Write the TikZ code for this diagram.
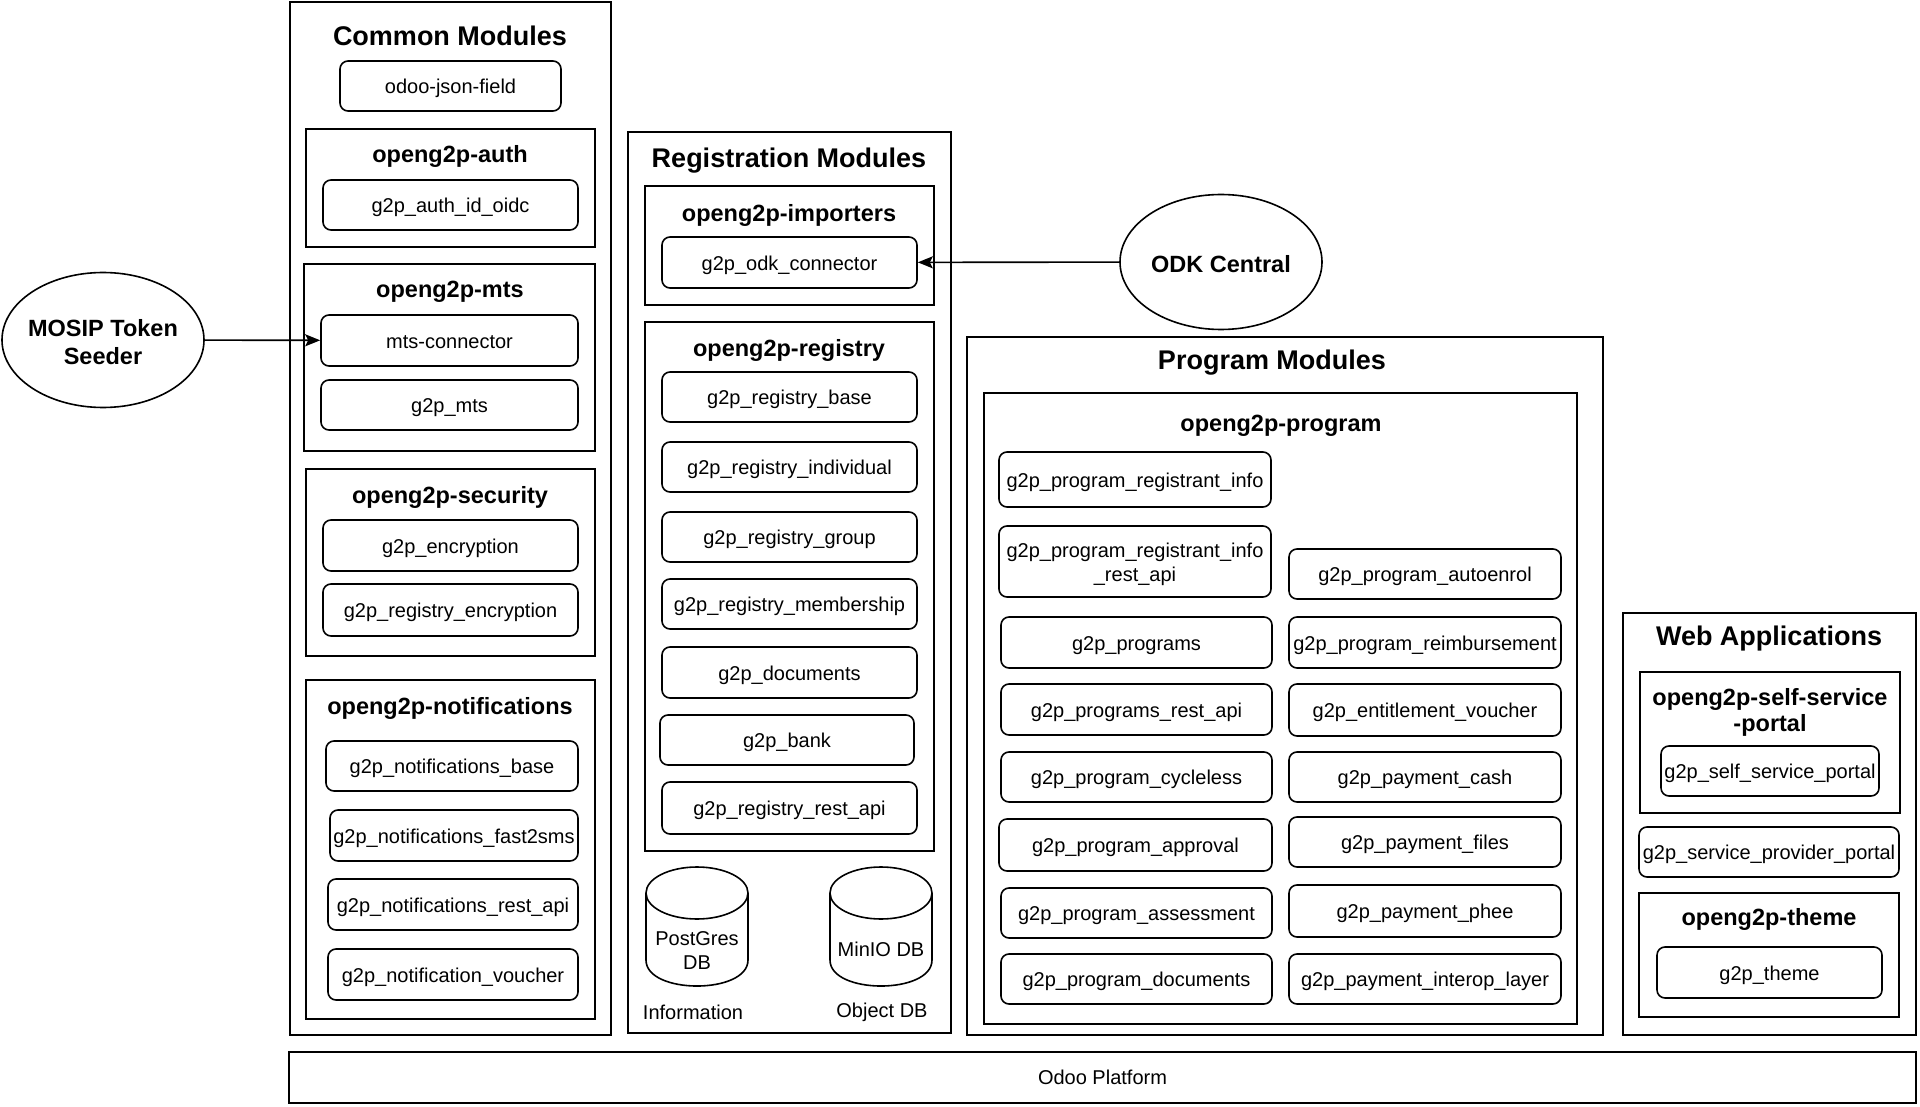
\documentclass[tikz,border=0pt]{standalone}
\usepackage{fontspec}
\setmainfont{Liberation Sans}
\usetikzlibrary{shapes.geometric,arrows.meta}

% box from corner (#3,#4) to corner (#5,#6)
\newcommand\boxnode[7][mod]{%
  \node[#1, minimum width={(#5-#3)*1pt}, minimum height={(#6-#4)*1pt}] (#2) at ({(#3+#5)/2},{(#4+#6)/2}) {#7};}

\begin{document}
\begin{tikzpicture}[x=1pt, y=-1pt,
  grp/.style={draw, line width=1.6pt, inner sep=0pt, align=center, font=\fontsize{20}{24}\selectfont},
  mod/.style={draw, line width=1.6pt, rounded corners=8pt, inner sep=0pt, align=center, font=\fontsize{20}{24}\selectfont, text height=18pt, text depth=2.5pt},
  head/.style={font=\bfseries\fontsize{27}{32}\selectfont},
  subhead/.style={font=\bfseries\fontsize{23.5}{26}\selectfont, align=center},
  txt/.style={font=\fontsize{20}{24}\selectfont, align=center},
  ext/.style={ellipse, draw, line width=1.6pt, inner sep=0pt, minimum width=202pt, minimum height=135pt},
  exttxt/.style={align=center, font=\bfseries\fontsize{23.5}{28}\selectfont},
  cyl/.style={line width=1.6pt},
  link/.style={line width=1.6pt, -{Stealth[length=15pt,width=12pt,inset=3pt]}}]
\useasboundingbox (0,0) rectangle (1920,1107);

% common modules
\boxnode[grp]{common}{290}{2}{611}{1035}{}
\node[head] (commonT) at (450,36) {Common Modules};
\boxnode{jsonfield}{340}{61}{561}{111}{odoo-json-field}

\boxnode[grp]{auth}{306}{129}{595}{247}{}
\node[subhead] (authT) at (450,156) {openg2p-auth};
\boxnode{authoidc}{323}{180}{578}{230}{g2p\_auth\_id\_oidc}

\boxnode[grp]{mts}{304}{264}{595}{451}{}
\node[subhead] (mtsT) at (450,292) {openg2p-mts};
\boxnode{mtsconn}{321}{315}{578}{366}{mts-connector}
\boxnode{g2pmts}{321}{380}{578}{430}{g2p\_mts}

\boxnode[grp]{security}{306}{469}{595}{656}{}
\node[subhead] (securityT) at (450,497) {openg2p-security};
\boxnode{encryption}{323}{520}{578}{571}{g2p\_encryption}
\boxnode{regencryption}{323}{584}{578}{636}{g2p\_registry\_encryption}

\boxnode[grp]{notif}{306}{680}{595}{1019}{}
\node[subhead] (notifT) at (450,708) {openg2p-notifications};
\boxnode{notifbase}{326}{741}{578}{791}{g2p\_notifications\_base}
\boxnode{notifsms}{330}{810}{578}{861}{g2p\_notifications\_fast2sms}
\boxnode{notifrest}{328}{879}{578}{930}{g2p\_notifications\_rest\_api}
\boxnode{notifvoucher}{328}{949}{578}{1000}{g2p\_notification\_voucher}

% registration modules
\boxnode[grp]{reg}{628}{132}{951}{1033}{}
\node[head] (regT) at (789,161) {Registration Modules};

\boxnode[grp]{importers}{645}{186}{934}{305}{}
\node[subhead] (importersT) at (789,215) {openg2p-importers};
\boxnode{odkconn}{662}{237}{917}{288}{g2p\_odk\_connector}

\boxnode[grp]{registry}{645}{322}{934}{851}{}
\node[subhead] (registryT) at (789,350) {openg2p-registry};
\boxnode{regbase}{662}{372}{917}{422}{g2p\_registry\_base}
\boxnode{regindiv}{662}{442}{917}{492}{g2p\_registry\_individual}
\boxnode{reggroup}{662}{512}{917}{562}{g2p\_registry\_group}
\boxnode{regmember}{662}{579}{917}{629}{g2p\_registry\_membership}
\boxnode{regdocs}{662}{647}{917}{698}{g2p\_documents}
\boxnode{regbank}{660}{715}{914}{765}{g2p\_bank}
\boxnode{regrest}{662}{782}{917}{834}{g2p\_registry\_rest\_api}

% databases
\foreach \cx in {697,881} {
  \draw[cyl] (\cx-51,893) -- (\cx-51,960) .. controls (\cx-51,994.7) and (\cx+51,994.7) .. (\cx+51,960) -- (\cx+51,893);
  \draw[cyl] (\cx,893) ellipse [x radius=51pt, y radius=26pt];
}
\node[txt] (postgres) at (697,951) {PostGres\\DB};
\node[txt] (minio) at (881,949) {MinIO DB};
\node[txt] (infoL) at (693,1012) {Information};
\node[txt] (objL) at (882,1012) {Object DB};

% program modules
\boxnode[grp]{prog}{967}{337}{1603}{1035}{}
\node[head] (progT) at (1272,363) {Program Modules};
\boxnode[grp]{program}{984}{393}{1577}{1024}{}
\node[subhead] (programT) at (1281,426) {openg2p-program};

\boxnode{reginfo}{999}{452}{1271}{507}{g2p\_program\_registrant\_info}
\boxnode[mod, text height=42pt]{reginforest}{999}{526}{1271}{597}{g2p\_program\_registrant\_info\\\_rest\_api}
\boxnode{programs}{1001}{617}{1272}{668}{g2p\_programs}
\boxnode{programsrest}{1001}{684}{1272}{735}{g2p\_programs\_rest\_api}
\boxnode{cycleless}{1001}{752}{1272}{802}{g2p\_program\_cycleless}
\boxnode{approval}{999}{819}{1272}{871}{g2p\_program\_approval}
\boxnode{assessment}{1001}{888}{1272}{938}{g2p\_program\_assessment}
\boxnode{progdocs}{1001}{954}{1272}{1004}{g2p\_program\_documents}

\boxnode{autoenrol}{1289}{549}{1561}{599}{g2p\_program\_autoenrol}
\boxnode{reimb}{1289}{617}{1561}{668}{g2p\_program\_reimbursement}
\boxnode{voucher}{1289}{684}{1561}{736}{g2p\_entitlement\_voucher}
\boxnode{paycash}{1289}{752}{1561}{802}{g2p\_payment\_cash}
\boxnode{payfiles}{1289}{817}{1561}{867}{g2p\_payment\_files}
\boxnode{payphee}{1289}{885}{1561}{937}{g2p\_payment\_phee}
\boxnode{payinterop}{1289}{954}{1561}{1004}{g2p\_payment\_interop\_layer}

% web applications
\boxnode[grp]{web}{1623}{613}{1916}{1035}{}
\node[head] (webT) at (1769,639) {Web Applications};
\boxnode[grp]{selfsvc}{1640}{672}{1900}{813}{}
\node[subhead] (selfsvcT) at (1770,712) {openg2p-self-service\\-portal};
\boxnode{selfportal}{1661}{746}{1879}{796}{g2p\_self\_service\_portal}
\boxnode{provider}{1639}{827}{1899}{877}{g2p\_service\_provider\_portal}
\boxnode[grp]{theme}{1639}{893}{1899}{1017}{}
\node[subhead] (themeT) at (1769,919) {openg2p-theme};
\boxnode{g2ptheme}{1657}{947}{1882}{998}{g2p\_theme}

% platform
\boxnode[grp]{odoo}{289}{1052}{1916}{1103}{Odoo Platform}

% external
\node[ext] (mosip) at (103,340) {};
\node[exttxt] (mosipT) at (103,342) {MOSIP Token\\Seeder};
\node[ext] (odk) at (1221,262) {};
\node[exttxt] (odkT) at (1221,264) {ODK Central};
\draw[link] (mosip) -- (mtsconn);
\draw[link] (odk) -- (odkconn);

\end{tikzpicture}
\end{document}
